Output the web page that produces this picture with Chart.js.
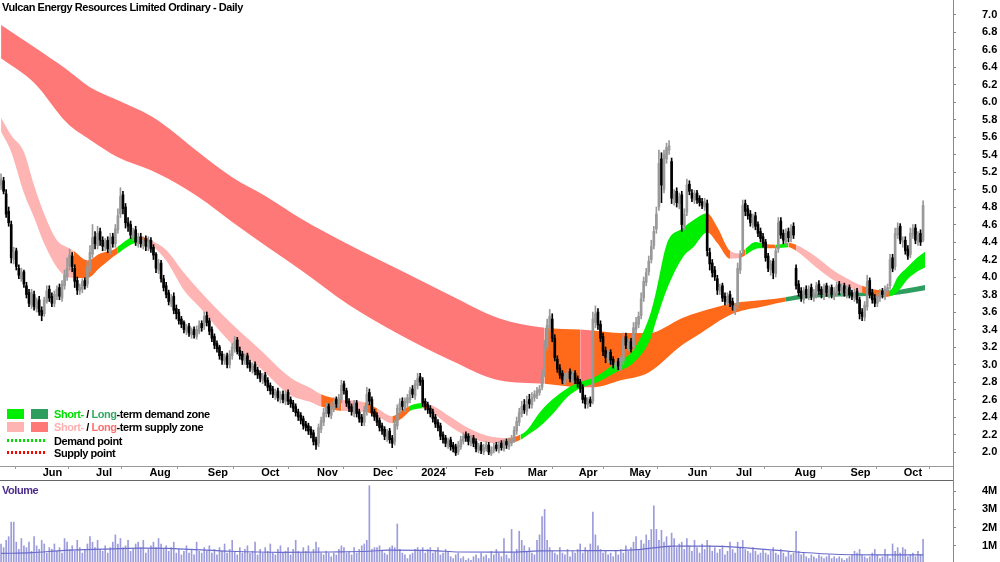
<!DOCTYPE html>
<html>
<head>
<meta charset="utf-8">
<script src="https://cdn.jsdelivr.net/npm/chart.js@4.4.1/dist/chart.umd.min.js"></script>
<style>
  html, body { margin: 0; padding: 0; background: #fff; width: 1000px; height: 562px; overflow: hidden; }
  #wrap { position: relative; width: 1000px; height: 562px; }
  canvas { position: absolute; left: 0; }
  .t { position: absolute; font-family: "Liberation Sans", Arial, sans-serif; font-weight: bold; font-size: 11px; letter-spacing: -0.45px; line-height: 12px; color: #000; white-space: nowrap; }
  .box { position: absolute; width: 17px; height: 10px; }
  .dots { position: absolute; width: 40px; height: 3px; }
  .line { position: absolute; }
</style>
</head>
<body>
<div id="wrap">
  <canvas id="price" width="1000" height="480" style="top:0"></canvas>
  <canvas id="vol" width="1000" height="84" style="top:480px"></canvas>

  <div class="line" style="left:0;top:480px;width:953px;height:1px;background:#666"></div>
  <div class="line" style="left:953px;top:0;width:1px;height:562px;background:#888"></div>

  <div class="t" style="left:2px;top:1px">Vulcan Energy Resources Limited Ordinary - Daily</div>
  <div class="t" style="left:2px;top:484px;color:#4b2d8a">Volume</div>

  <div class="box" style="left:7px;top:409px;background:#00ee00"></div>
  <div class="box" style="left:31px;top:409px;background:#2e9e5e"></div>
  <div class="t" style="left:54px;top:408px"><span style="color:#00dd00">Short-</span> / <span style="color:#33aa66">Long</span>-term demand zone</div>
  <div class="box" style="left:7px;top:422px;background:#ffb4b4"></div>
  <div class="box" style="left:31px;top:422px;background:#ff7878"></div>
  <div class="t" style="left:54px;top:421px"><span style="color:#ffb0b0">Short-</span> / <span style="color:#ff6e6e">Long</span>-term supply zone</div>
  <div class="dots" style="left:7px;top:439px;background:repeating-linear-gradient(to right,#00dd00 0 2px,transparent 2px 4px)"></div>
  <div class="t" style="left:54px;top:435px">Demand point</div>
  <div class="dots" style="left:7px;top:451px;background:repeating-linear-gradient(to right,#ff0000 0 2px,transparent 2px 4px)"></div>
  <div class="t" style="left:54px;top:447px">Supply point</div>
</div>

<script>
// daily bars, index 0 = 10 May 2023, last = 11 Oct 2024
var opens = [5.05,5.10,4.95,4.75,4.60,4.20,4.30,4.10,3.98,4.06,
  3.90,3.82,3.68,3.80,3.64,3.74,3.62,3.58,3.72,3.86,
  3.78,3.70,3.78,3.88,3.76,3.90,4.00,4.12,4.24,4.10,
  3.96,3.84,3.86,3.96,3.92,4.10,4.26,4.46,4.36,4.52,
  4.42,4.34,4.42,4.30,4.46,4.38,4.54,4.72,4.94,4.80,
  4.62,4.60,4.46,4.54,4.38,4.46,4.36,4.44,4.34,4.42,
  4.34,4.26,4.08,4.16,3.98,3.90,3.82,3.70,3.78,3.64,
  3.60,3.52,3.48,3.38,3.44,3.34,3.40,3.32,3.38,3.47,
  3.44,3.56,3.50,3.40,3.32,3.24,3.20,3.12,3.04,3.10,
  3.00,3.10,3.18,3.28,3.16,3.12,3.04,3.10,3.02,2.94,
  3.00,2.94,2.90,2.82,2.88,2.82,2.76,2.72,2.64,2.70,
  2.60,2.66,2.58,2.68,2.60,2.56,2.52,2.46,2.42,2.38,
  2.32,2.30,2.26,2.22,2.14,2.10,2.26,2.34,2.44,2.52,
  2.42,2.50,2.60,2.54,2.60,2.78,2.70,2.58,2.52,2.44,
  2.56,2.46,2.40,2.34,2.46,2.68,2.60,2.46,2.42,2.36,
  2.30,2.26,2.16,2.24,2.16,2.12,2.30,2.48,2.58,2.50,
  2.56,2.60,2.72,2.64,2.76,2.86,2.82,2.58,2.54,2.50,
  2.46,2.40,2.34,2.30,2.20,2.16,2.08,2.14,2.08,2.06,
  2.00,2.06,2.12,2.20,2.18,2.10,2.16,2.12,2.02,2.08,
  2.00,2.04,2.08,1.98,2.02,2.08,2.02,2.10,2.04,2.12,
  2.06,2.10,2.14,2.24,2.34,2.44,2.54,2.46,2.60,2.54,
  2.62,2.64,2.68,2.74,2.90,3.20,3.42,3.52,3.30,3.06,
  2.96,2.90,2.80,2.84,2.92,2.82,2.90,2.84,2.80,2.74,
  2.62,2.54,2.60,2.58,3.48,3.60,3.46,3.32,3.16,3.06,
  3.14,3.06,2.98,3.04,2.96,3.04,3.32,3.20,3.26,3.20,
  3.40,3.46,3.56,3.76,3.94,4.06,4.20,4.36,4.55,4.80,
  5.35,5.00,5.35,5.45,5.32,4.88,4.98,4.84,4.94,4.58,
  4.74,5.06,4.96,4.88,4.96,4.90,4.86,4.80,4.84,4.28,
  4.16,4.08,3.98,3.84,3.90,3.78,3.70,3.80,3.72,3.62,
  3.68,4.08,4.30,4.84,4.78,4.72,4.60,4.70,4.60,4.52,
  4.46,4.40,4.24,4.08,4.18,4.04,4.32,4.64,4.50,4.40,
  4.52,4.44,4.58,4.10,3.92,3.84,3.74,3.86,3.78,3.88,
  3.76,3.80,3.92,3.86,3.78,3.90,3.80,3.88,3.78,3.82,
  3.92,3.82,3.90,3.80,3.88,3.82,3.76,3.84,3.74,3.60,
  3.54,3.66,3.96,3.82,3.76,3.70,3.76,3.84,3.78,3.84,
  3.90,4.22,4.12,4.48,4.58,4.40,4.42,4.32,4.26,4.48,
  4.56,4.40,4.50,4.42];
var highs = [5.18,5.14,5.00,4.80,4.64,4.34,4.33,4.14,4.10,4.08,
  3.94,3.86,3.86,3.84,3.76,3.78,3.66,3.77,3.90,3.90,
  3.82,3.84,3.90,3.92,3.96,4.08,4.22,4.32,4.28,4.14,
  4.00,3.92,3.98,3.99,4.18,4.36,4.60,4.52,4.58,4.56,
  4.46,4.44,4.46,4.50,4.50,4.60,4.78,5.02,4.98,4.84,
  4.68,4.64,4.56,4.58,4.50,4.50,4.46,4.47,4.46,4.45,
  4.37,4.28,4.20,4.19,4.02,3.94,3.85,3.80,3.82,3.68,
  3.63,3.55,3.50,3.46,3.47,3.42,3.43,3.44,3.50,3.50,
  3.60,3.60,3.53,3.43,3.35,3.27,3.22,3.15,3.12,3.13,
  3.16,3.24,3.32,3.31,3.20,3.15,3.12,3.13,3.05,3.02,
  3.03,2.97,2.93,2.90,2.91,2.85,2.79,2.75,2.72,2.73,
  2.69,2.70,2.70,2.71,2.63,2.59,2.55,2.49,2.45,2.41,
  2.35,2.33,2.29,2.25,2.17,2.32,2.40,2.50,2.56,2.55,
  2.56,2.62,2.63,2.66,2.82,2.81,2.73,2.61,2.55,2.59,
  2.59,2.49,2.43,2.52,2.74,2.72,2.63,2.49,2.45,2.39,
  2.33,2.29,2.26,2.27,2.19,2.36,2.54,2.61,2.62,2.62,
  2.66,2.74,2.76,2.82,2.90,2.90,2.85,2.61,2.57,2.53,
  2.49,2.43,2.37,2.33,2.23,2.19,2.16,2.17,2.11,2.09,
  2.12,2.18,2.22,2.23,2.21,2.19,2.19,2.15,2.10,2.11,
  2.09,2.12,2.11,2.06,2.10,2.11,2.12,2.13,2.14,2.15,
  2.16,2.19,2.29,2.40,2.50,2.58,2.60,2.64,2.66,2.68,
  2.70,2.74,2.76,2.94,3.28,3.52,3.63,3.58,3.34,3.10,
  3.00,2.93,2.90,2.94,2.95,2.92,2.93,2.87,2.83,2.77,
  2.65,2.62,2.63,3.60,3.67,3.64,3.50,3.36,3.20,3.16,
  3.17,3.09,3.06,3.07,3.09,3.36,3.36,3.29,3.30,3.48,
  3.54,3.60,3.82,4.00,4.10,4.24,4.42,4.58,4.80,5.45,
  5.42,5.45,5.53,5.56,5.36,5.00,5.02,4.96,4.98,4.78,
  5.12,5.10,5.00,4.99,4.99,4.93,4.90,4.90,4.88,4.33,
  4.20,4.12,4.02,3.92,3.93,3.82,3.82,3.84,3.76,3.70,
  4.16,4.30,4.88,4.88,4.82,4.76,4.72,4.74,4.63,4.56,
  4.50,4.43,4.27,4.19,4.21,4.35,4.68,4.68,4.54,4.55,
  4.56,4.60,4.62,4.14,3.96,3.88,3.88,3.90,3.90,3.92,
  3.86,3.94,3.96,3.89,3.92,3.93,3.90,3.91,3.88,3.94,
  3.95,3.92,3.93,3.90,3.91,3.85,3.86,3.87,3.77,3.64,
  3.72,4.02,3.99,3.86,3.80,3.82,3.86,3.87,3.90,3.92,
  4.26,4.26,4.56,4.62,4.61,4.46,4.46,4.36,4.56,4.60,
  4.60,4.52,4.54,4.87];
var lows = [5.00,4.95,4.68,4.58,4.16,4.15,4.08,3.98,3.95,3.88,
  3.76,3.66,3.64,3.62,3.60,3.56,3.50,3.55,3.70,3.72,
  3.66,3.66,3.74,3.74,3.72,3.86,3.96,4.08,4.06,3.88,
  3.80,3.80,3.82,3.86,3.88,4.06,4.22,4.32,4.32,4.36,
  4.30,4.30,4.28,4.26,4.34,4.34,4.50,4.68,4.72,4.56,
  4.52,4.44,4.42,4.36,4.34,4.34,4.32,4.30,4.30,4.28,
  4.20,4.05,4.04,3.94,3.84,3.76,3.68,3.66,3.58,3.52,
  3.46,3.42,3.36,3.34,3.32,3.30,3.30,3.29,3.35,3.38,
  3.40,3.44,3.34,3.26,3.18,3.14,3.06,3.00,3.00,2.96,
  2.96,3.06,3.14,3.12,3.06,3.00,3.00,2.96,2.92,2.90,
  2.88,2.84,2.80,2.78,2.76,2.70,2.66,2.62,2.60,2.58,
  2.56,2.56,2.54,2.54,2.51,2.46,2.41,2.36,2.32,2.26,
  2.24,2.20,2.16,2.08,2.03,2.06,2.22,2.30,2.40,2.40,
  2.38,2.46,2.51,2.50,2.56,2.66,2.52,2.46,2.42,2.40,
  2.40,2.34,2.30,2.30,2.42,2.54,2.41,2.36,2.30,2.24,
  2.20,2.14,2.12,2.10,2.05,2.08,2.26,2.44,2.48,2.46,
  2.52,2.56,2.62,2.60,2.72,2.76,2.52,2.48,2.44,2.40,
  2.34,2.28,2.24,2.14,2.10,2.06,2.04,2.02,2.00,1.96,
  1.97,2.03,2.09,2.12,2.08,2.07,2.06,2.00,1.99,1.98,
  1.97,2.01,1.97,1.96,1.99,2.01,1.99,2.02,2.01,2.04,
  2.03,2.07,2.11,2.20,2.30,2.40,2.44,2.42,2.50,2.50,
  2.58,2.61,2.65,2.71,2.86,3.16,3.38,3.26,3.04,2.91,
  2.84,2.78,2.77,2.80,2.80,2.79,2.78,2.74,2.68,2.56,
  2.50,2.50,2.52,2.55,3.42,3.40,3.26,3.10,3.02,3.02,
  3.00,2.96,2.94,2.94,2.93,3.00,3.18,3.16,3.14,3.16,
  3.36,3.42,3.52,3.72,3.90,4.02,4.16,4.32,4.50,4.76,
  4.85,4.96,5.30,5.40,4.84,4.82,4.80,4.78,4.52,4.54,
  4.70,4.94,4.86,4.84,4.84,4.81,4.78,4.76,4.24,4.08,
  4.00,3.96,3.80,3.80,3.72,3.68,3.66,3.66,3.62,3.57,
  3.64,4.04,4.26,4.70,4.66,4.58,4.56,4.54,4.46,4.40,
  4.34,4.18,4.06,4.02,3.98,4.00,4.28,4.44,4.38,4.36,
  4.40,4.40,4.44,3.86,3.78,3.72,3.70,3.76,3.74,3.74,
  3.72,3.76,3.80,3.76,3.74,3.78,3.76,3.76,3.74,3.78,
  3.80,3.78,3.78,3.76,3.76,3.74,3.72,3.70,3.52,3.50,
  3.50,3.62,3.76,3.70,3.66,3.66,3.72,3.76,3.74,3.80,
  3.86,4.06,4.08,4.44,4.38,4.34,4.26,4.20,4.22,4.44,
  4.38,4.36,4.36,4.40];
var closes = [5.12,4.98,4.72,4.62,4.22,4.28,4.12,4.02,4.05,3.92,
  3.80,3.70,3.82,3.66,3.72,3.60,3.56,3.74,3.84,3.76,
  3.70,3.80,3.86,3.78,3.92,4.02,4.10,4.25,4.12,3.95,
  3.85,3.88,3.95,3.90,4.12,4.28,4.45,4.38,4.50,4.42,
  4.35,4.40,4.32,4.45,4.38,4.55,4.70,4.92,4.78,4.62,
  4.58,4.48,4.52,4.40,4.45,4.38,4.42,4.35,4.40,4.32,
  4.25,4.10,4.15,3.98,3.88,3.80,3.72,3.76,3.62,3.58,
  3.50,3.46,3.40,3.42,3.36,3.38,3.34,3.40,3.45,3.42,
  3.55,3.48,3.38,3.30,3.22,3.18,3.10,3.05,3.08,3.00,
  3.12,3.20,3.26,3.15,3.10,3.05,3.08,3.00,2.96,2.98,
  2.92,2.88,2.84,2.86,2.80,2.74,2.70,2.66,2.68,2.62,
  2.65,2.60,2.66,2.58,2.55,2.50,2.45,2.40,2.36,2.30,
  2.28,2.24,2.20,2.12,2.08,2.28,2.36,2.45,2.50,2.44,
  2.52,2.58,2.55,2.62,2.76,2.70,2.56,2.50,2.46,2.55,
  2.44,2.38,2.34,2.48,2.66,2.58,2.45,2.40,2.34,2.28,
  2.24,2.18,2.22,2.14,2.10,2.32,2.50,2.56,2.52,2.58,
  2.62,2.70,2.66,2.78,2.84,2.80,2.56,2.52,2.48,2.44,
  2.38,2.32,2.28,2.18,2.14,2.10,2.12,2.06,2.04,1.99,
  2.08,2.14,2.18,2.16,2.12,2.15,2.10,2.04,2.06,2.02,
  2.05,2.08,2.00,2.02,2.06,2.04,2.08,2.05,2.10,2.08,
  2.12,2.15,2.25,2.35,2.45,2.52,2.48,2.58,2.55,2.62,
  2.66,2.70,2.72,2.88,3.22,3.45,3.55,3.30,3.08,2.95,
  2.88,2.82,2.86,2.90,2.84,2.88,2.82,2.78,2.72,2.60,
  2.55,2.58,2.56,3.52,3.58,3.45,3.30,3.15,3.08,3.12,
  3.05,3.00,3.02,2.98,3.05,3.30,3.22,3.25,3.18,3.42,
  3.48,3.55,3.75,3.95,4.05,4.18,4.35,4.52,4.72,5.30,
  5.05,5.40,5.48,5.50,4.90,4.95,4.85,4.92,4.60,4.72,
  5.05,4.98,4.90,4.95,4.88,4.85,4.82,4.86,4.30,4.15,
  4.05,4.00,3.85,3.88,3.76,3.72,3.78,3.70,3.68,3.66,
  4.10,4.25,4.82,4.75,4.70,4.62,4.68,4.58,4.50,4.44,
  4.38,4.22,4.10,4.15,4.05,4.30,4.62,4.48,4.42,4.50,
  4.45,4.55,4.48,3.90,3.82,3.76,3.84,3.80,3.86,3.78,
  3.82,3.90,3.84,3.80,3.88,3.82,3.86,3.80,3.84,3.90,
  3.84,3.88,3.82,3.86,3.80,3.78,3.82,3.74,3.58,3.55,
  3.68,3.95,3.80,3.74,3.70,3.78,3.82,3.80,3.86,3.88,
  4.20,4.10,4.50,4.56,4.42,4.40,4.30,4.24,4.50,4.55,
  4.42,4.48,4.40,4.82];

// volume in millions
var volumes = [1.1,0.9,1.3,1.5,2.3,2.3,1.2,0.8,1.4,1.0,0.9,1.2,0.7,1.5,1.0,0.8,1.3,1.1,0.6,0.9,
  0.8,1.1,0.7,0.9,0.6,1.4,1.2,0.8,1.0,0.7,1.3,0.9,0.6,0.8,1.1,1.5,1.2,0.9,1.3,0.8,
  0.7,1.0,0.6,0.9,1.2,1.6,1.1,1.4,0.9,1.0,1.3,0.7,0.8,1.1,1.2,0.9,1.3,0.6,0.8,1.0,
  1.2,0.9,1.4,1.1,0.8,1.0,0.7,0.9,1.2,0.6,0.8,0.5,0.7,1.0,0.6,0.8,0.5,1.2,0.7,0.6,
  0.9,0.7,1.0,0.6,0.8,0.5,0.9,0.7,1.1,0.6,0.8,1.3,0.7,0.5,0.9,0.6,0.8,1.0,0.6,0.7,
  1.2,0.5,0.8,0.6,0.9,0.7,1.1,0.6,0.5,0.8,1.0,0.6,0.7,0.9,0.5,0.8,1.3,0.7,0.6,0.9,
  0.7,1.0,0.6,0.8,1.2,0.9,0.6,0.5,0.7,0.6,0.4,0.6,0.5,0.8,1.0,0.9,0.6,0.7,0.5,0.9,
  0.6,0.8,1.0,1.1,1.3,4.3,0.8,0.9,0.9,1.0,0.7,0.6,0.5,0.9,1.0,0.9,2.2,0.8,0.6,0.5,
  0.3,0.5,0.6,0.8,0.9,0.7,0.9,0.6,0.8,0.9,0.6,0.7,0.9,0.5,0.6,0.8,0.7,0.4,0.3,0.5,
  0.6,0.3,0.4,0.2,0.3,0.2,0.4,0.5,0.3,0.6,0.4,0.5,0.3,0.7,0.5,0.8,0.6,0.4,1.4,0.5,
  0.3,1.9,0.6,0.8,1.8,1.3,1.0,0.7,0.9,0.6,0.5,1.3,1.6,2.6,3.0,1.3,0.9,0.7,0.6,0.5,
  0.9,0.6,0.5,0.8,0.4,0.7,0.6,0.8,1.1,0.6,0.9,0.7,1.1,2.85,1.6,1.0,0.8,0.6,0.7,0.5,
  0.6,0.4,0.7,0.5,0.8,0.6,1.0,0.7,0.9,1.2,1.5,0.8,1.3,1.1,1.6,1.3,1.9,3.2,1.9,1.3,
  1.85,1.2,1.5,1.0,1.7,1.4,0.9,1.1,1.2,0.8,1.4,1.0,0.7,1.3,0.9,0.6,1.1,0.8,1.3,1.0,
  0.7,0.9,0.6,0.8,1.0,0.5,0.7,1.2,0.8,0.6,1.2,0.9,1.3,0.8,0.7,0.6,0.9,0.7,0.5,0.6,
  0.8,0.6,0.5,0.7,0.9,0.6,0.5,0.8,0.6,0.4,0.7,0.5,0.6,1.8,0.7,0.5,0.6,0.4,0.3,0.5,
  0.4,0.3,0.5,0.4,0.3,0.4,0.5,0.3,0.4,0.3,0.4,0.3,0.2,0.3,0.4,0.5,0.7,0.6,0.8,0.5,
  0.4,0.3,0.4,0.6,0.8,0.5,0.3,0.4,0.8,0.5,0.3,1.1,0.7,0.9,0.6,0.9,0.8,0.4,0.5,0.6,
  0.4,0.7,0.5,1.35];
var volAvgIdx = [0,12,25,40,55,65,75,90,110,130,145,152,170,180,200,212,230,245,252,258,265,278,292,307,326,345,363];
var volAvg    = [0.58,0.62,0.75,0.82,0.87,0.86,0.80,0.70,0.64,0.66,0.70,0.76,0.74,0.66,0.65,0.72,0.73,0.75,0.80,0.90,0.98,0.98,0.90,0.73,0.55,0.50,0.50];

// long-term zone (upper / lower edge), zone code applies from that point on
var longIdx   = [0,13,26,35,46,59,66,78,91,105,118,137,157,177,196,214,228,233,244,255,268,275,288,301,309,315,334,350,363.8];
var longUpper = [6.88,6.63,6.37,6.17,6.02,5.84,5.70,5.42,5.14,4.91,4.67,4.37,4.08,3.79,3.53,3.42,3.40,3.39,3.36,3.36,3.53,3.60,3.70,3.74,3.77,3.80,3.82,3.84,3.91];
var longLower = [6.50,6.22,5.76,5.57,5.37,5.22,5.12,4.91,4.63,4.34,4.08,3.68,3.34,3.05,2.82,2.78,2.74,2.74,2.82,2.91,3.22,3.35,3.58,3.67,3.72,3.75,3.78,3.79,3.85];
var longZone  = ['S','S','S','S','S','S','S','S','S','S','S','S','S','S','S','N','S','N','N','N','N','N','N','N','D','D','D','D','D'];

// short-term zone
var shortIdx   = [0,4,9,13,17,22,26,28.5,34,39,44,46,51,53,57,59,65,72,78,90,102,114,122,126,134,143,148,154,158,161,163,166,168,170,177,183,191,199.5,204.5,207,212,217,223,228,234,242,249,255.5,258,262,268.5,272.5,278,282,287,291,293,297,300,305,310,313,321,327.5,334,339,346,350,353,356.7,360.6,363.8];
var shortUpper = [5.82,5.62,5.43,5.05,4.72,4.42,4.34,4.30,4.19,4.27,4.31,4.35,4.45,4.46,4.45,4.42,4.31,4.05,3.85,3.49,3.17,2.85,2.73,2.66,2.60,2.57,2.50,2.41,2.48,2.53,2.55,2.56,2.55,2.53,2.40,2.29,2.19,2.16,2.20,2.25,2.45,2.60,2.73,2.80,2.86,3.02,3.17,3.57,3.85,4.37,4.56,4.65,4.73,4.57,4.30,4.27,4.32,4.40,4.38,4.37,4.39,4.37,4.23,4.08,3.97,3.90,3.85,3.85,4.00,4.11,4.22,4.29];
var shortLower = [5.66,5.43,4.96,4.68,4.38,4.11,4.00,3.99,3.99,4.11,4.23,4.27,4.37,4.39,4.40,4.37,4.19,3.85,3.66,3.26,2.96,2.65,2.57,2.52,2.47,2.46,2.41,2.33,2.39,2.47,2.49,2.50,2.49,2.45,2.29,2.19,2.11,2.10,2.14,2.19,2.29,2.43,2.63,2.73,2.79,2.91,3.02,3.28,3.51,3.85,4.23,4.34,4.51,4.39,4.21,4.22,4.25,4.32,4.33,4.33,4.34,4.30,4.11,3.97,3.88,3.82,3.77,3.78,3.83,3.97,4.06,4.11];
var shortZone  = ['S','S','S','S','S','S','S','N','N','N','N','D','D','N','N','S','S','S','S','S','S','S','S','N','S','N','S','N','N','D','D','N','S','S','S','S','S','N','D','D','D','D','D','D','D','D','D','D','D','D','D','D','N','N','S','N','D','D','N','D','N','S','S','S','S','N','N','D','D','D','D','D'];

var monthIdx    = [16,37,58,81,102,124,146,165,186,207,227,247,270,289,312,334,355];
var monthLabels = ['Jun','Jul','Aug','Sep','Oct','Nov','Dec','2024','Feb','Mar','Apr','May','Jun','Jul','Aug','Sep','Oct'];
var priceTicks  = [2.0,2.2,2.4,2.6,2.8,3.0,3.2,3.4,3.6,3.8,4.0,4.2,4.4,4.6,4.8,5.0,5.2,5.4,5.6,5.8,6.0,6.2,6.4,6.6,6.8,7.0];
var volTicks    = [1,2,3,4];

var longColors  = { S: '#ff7878', D: '#2e9e5e', N: '#ff6a1a' };
var shortColors = { S: '#ffb4b4', D: '#00ee00', N: '#ff6a1a' };

var FONT = { family: '"Liberation Sans", Arial, sans-serif', size: 11, weight: 'bold' };
var X_MIN = -0.417, X_MAX = 374.78;

function bandSets(idx, upper, lower, zone, colors, order) {
  return [
    {
      type: 'line',
      data: idx.map(function (x, i) { return { x: x, y: upper[i] }; }),
      fill: '+1',
      backgroundColor: colors.S,
      segment: { backgroundColor: function (c) { return colors[zone[c.p0DataIndex]]; } },
      borderWidth: 0, pointRadius: 0, cubicInterpolationMode: 'monotone',
      order: order
    },
    {
      type: 'line',
      data: idx.map(function (x, i) { return { x: x, y: lower[i] }; }),
      fill: false, borderWidth: 0, pointRadius: 0, cubicInterpolationMode: 'monotone',
      order: order
    }
  ];
}

function candleColor(ctx) {
  var i = ctx.dataIndex;
  return closes[i] >= opens[i] ? '#999999' : '#000000';
}

function fixWidth(w) {
  return function (s) { s.width = w; s.paddingTop = 0; s.paddingBottom = 0; };
}

var priceSets = bandSets(longIdx, longUpper, longLower, longZone, longColors, 10)
  .concat(bandSets(shortIdx, shortUpper, shortLower, shortZone, shortColors, 5));

priceSets.push({
  type: 'bar',
  data: closes.map(function (c, i) { return { x: i, y: [lows[i], highs[i]] }; }),
  backgroundColor: candleColor, barThickness: 1, grouped: false, order: 1
});
priceSets.push({
  type: 'bar',
  data: closes.map(function (c, i) { return { x: i, y: [opens[i], c] }; }),
  backgroundColor: candleColor, barThickness: 2, minBarLength: 1, grouped: false, order: 0
});

new Chart(document.getElementById('price'), {
  type: 'bar',
  data: { datasets: priceSets },
  options: {
    responsive: false, animation: false,
    layout: { padding: 0 },
    plugins: { legend: { display: false }, tooltip: { enabled: false } },
    scales: {
      x: {
        type: 'linear', min: X_MIN, max: X_MAX, offset: false,
        afterBuildTicks: function (s) { s.ticks = monthIdx.map(function (v) { return { value: v }; }); },
        afterFit: function (s) { s.height = 14; s.paddingLeft = 0; s.paddingRight = 0; },
        grid: { drawOnChartArea: false, drawTicks: true, tickLength: 3, color: '#999' },
        border: { display: true, color: '#999' },
        ticks: {
          autoSkip: false, maxRotation: 0, minRotation: 0, align: 'start', labelOffset: 1, padding: -3,
          color: '#000', font: FONT,
          callback: function (v, i) { return monthLabels[i]; }
        }
      },
      y: {
        position: 'right', min: 1.84, max: 7.166,
        afterBuildTicks: function (s) { s.ticks = priceTicks.map(function (v) { return { value: v }; }); },
        afterFit: fixWidth(47),
        grid: { drawOnChartArea: false, drawTicks: true, tickLength: 3, color: '#888' },
        border: { display: false },
        ticks: { padding: 26, color: '#000', font: FONT, callback: function (v) { return v.toFixed(1); } }
      }
    }
  }
});

new Chart(document.getElementById('vol'), {
  type: 'bar',
  data: {
    datasets: [
      {
        type: 'line',
        data: volAvgIdx.map(function (x, i) { return { x: x, y: volAvg[i] }; }),
        borderColor: '#6b6bcc', borderWidth: 1.2, pointRadius: 0, cubicInterpolationMode: 'monotone',
        order: 0
      },
      {
        type: 'bar',
        data: volumes.map(function (v, i) { return { x: i, y: v }; }),
        backgroundColor: '#9c9cdc', barThickness: 1, grouped: false, order: 1
      }
    ]
  },
  options: {
    responsive: false, animation: false,
    layout: { padding: 0 },
    plugins: { legend: { display: false }, tooltip: { enabled: false } },
    scales: {
      x: { type: 'linear', min: X_MIN, max: X_MAX, offset: false, display: false },
      y: {
        position: 'right', min: 0, max: 4.615,
        afterBuildTicks: function (s) { s.ticks = volTicks.map(function (v) { return { value: v }; }); },
        afterFit: fixWidth(47),
        grid: { drawOnChartArea: false, drawTicks: true, tickLength: 3, color: '#888' },
        border: { display: false },
        ticks: { padding: 26, color: '#000', font: FONT, callback: function (v) { return v + 'M'; } }
      }
    }
  }
});
</script>
</body>
</html>
